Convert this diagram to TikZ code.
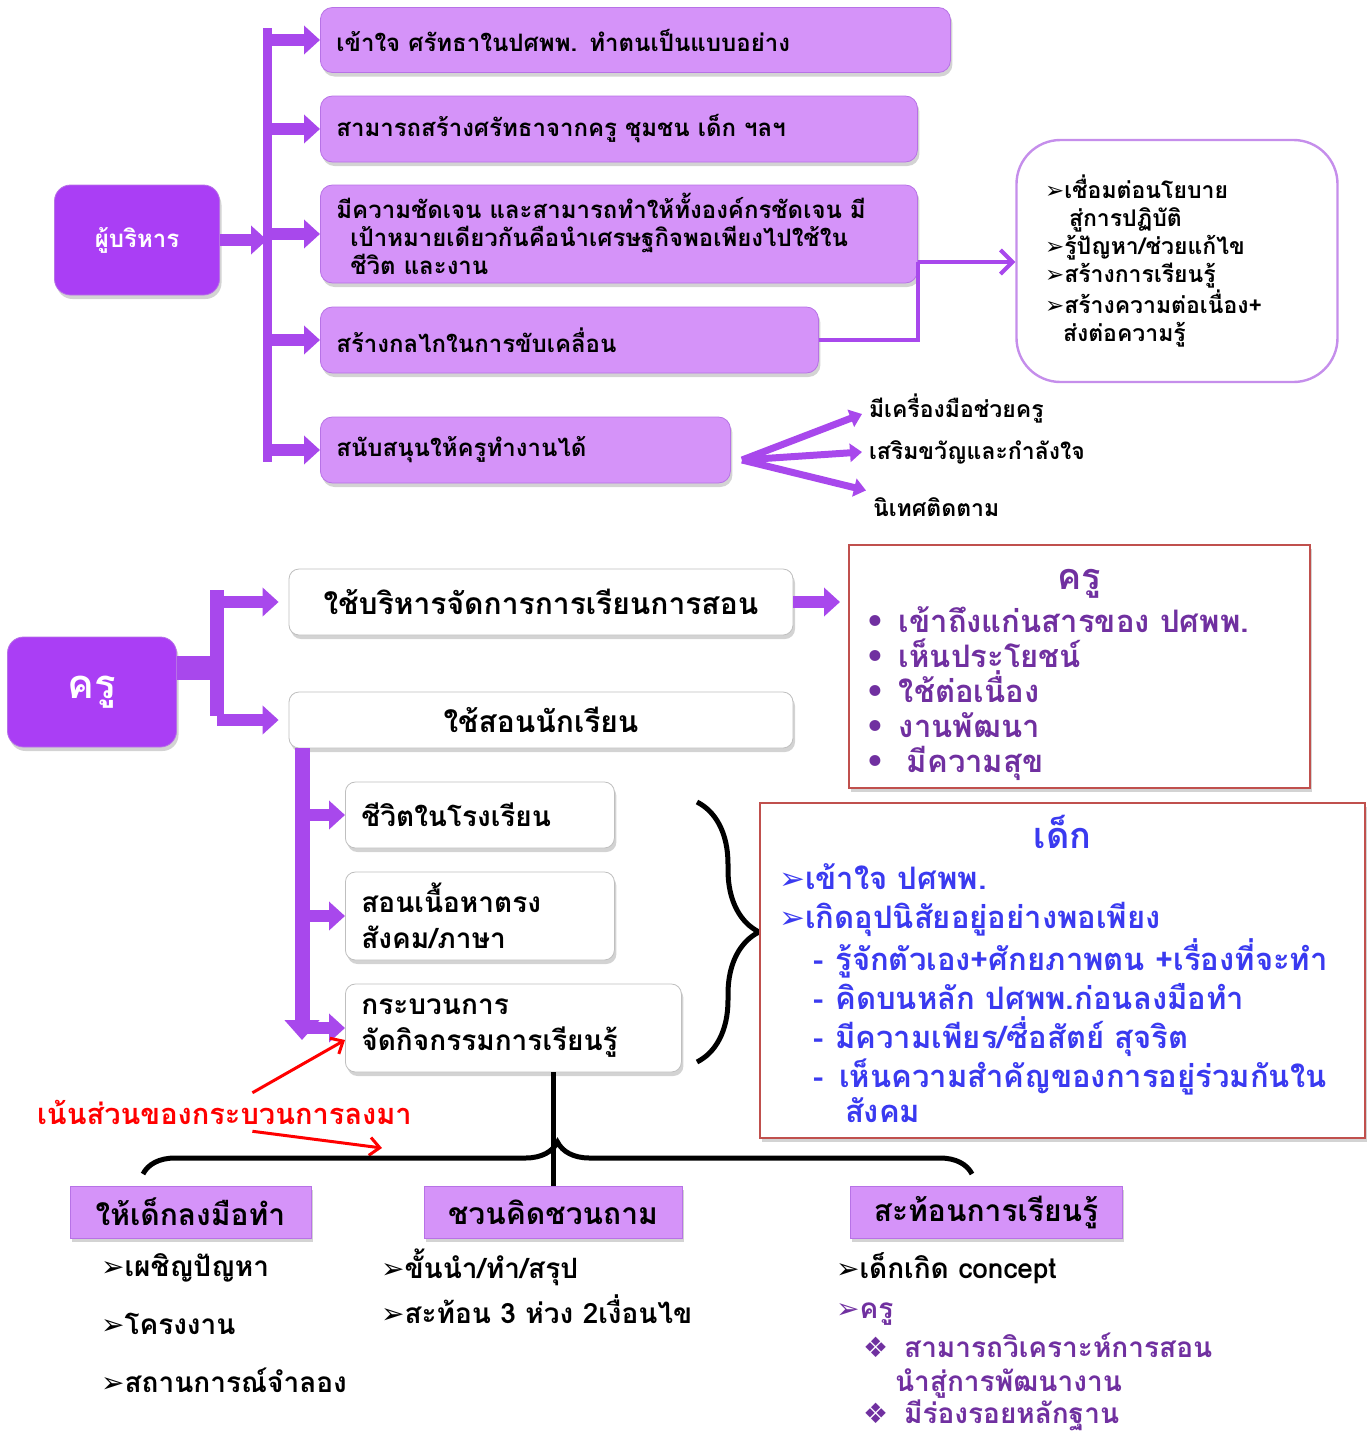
\documentclass[tikz,border=0pt]{standalone}
\usepackage{fontspec}
\setmainfont{Loma}[Script=Thai]
\newfontfamily\symf{DejaVu Sans}
\usetikzlibrary{positioning, arrows.meta, shadows, decorations.pathreplacing}

\definecolor{darkvio}{HTML}{AA3EF5}
\definecolor{lightvio}{HTML}{D593F9}
\definecolor{edgevio}{HTML}{B772E6}
\definecolor{arrowvio}{HTML}{A848EC}
\definecolor{txtvio}{HTML}{7030A0}
\definecolor{txtblue}{HTML}{3A3AF0}
\definecolor{boxred}{HTML}{C0504D}

\newcommand{\mk}{{\symf ➢}}
\newcommand{\dia}{{\symf ❖}}
\newcommand{\bul}{{\symf •}}

\tikzset{
  shade/.style={drop shadow={opacity=.35,shadow xshift=1pt,shadow yshift=-2pt}},
  head/.style={draw=edgevio, fill=darkvio, rounded corners=8pt, text=white, shade},
  topbox/.style={draw=edgevio, fill=lightvio, rounded corners=6pt, anchor=west,
    inner xsep=8pt, align=left, text width=#1, shade,
    font=\fontsize{12}{14}\selectfont\bfseries},
  whitebox/.style={draw=black!25, fill=white, rounded corners=5pt, shade,
    font=\fontsize{15}{18}\selectfont\bfseries},
  subbox/.style={whitebox, anchor=west, inner xsep=8pt, align=left, text width=#1,
    font=\fontsize{14}{18}\selectfont\bfseries},
  tab/.style={draw=edgevio, fill=lightvio, shade, font=\fontsize{15}{18}\selectfont\bfseries},
  redbox/.style={draw=boxred, line width=1pt, fill=white, shade},
  fat/.style={draw=arrowvio, line width=6pt, -{Triangle[width=14pt,length=8pt]}},
  bar/.style={draw=arrowvio, line width=4.5pt},
  thinfat/.style={draw=arrowvio, line width=3.5pt, -{Triangle[width=9pt,length=6pt]}},
  link/.style={draw=arrowvio, line width=2pt},
  item/.style={anchor=west, font=\fontsize{14}{17}\selectfont\bfseries},
  brace/.style={draw, line width=2.5pt, decorate, decoration={brace, amplitude=#1}}
}

\begin{document}
\begin{tikzpicture}[x=0.5pt, y=-0.5pt, font=\bfseries]
\useasboundingbox (0,0) rectangle (1367,1436);

% ---- ผู้บริหาร
\node[head, minimum width=82.5pt, minimum height=55pt,
  font=\fontsize{12}{14}\selectfont\bfseries] (admin) at (137,240) {ผู้บริหาร};
\coordinate (bartop) at (267,28);
\coordinate (barbot) at (267,462);

\node[topbox=299pt, minimum height=32.5pt] (a1) at (320,40) {เข้าใจ ศรัทธาในปศพพ. ทำตนเป็นแบบอย่าง};
\node[topbox=282.5pt, minimum height=33pt] (a2) at (320,129) {สามารถสร้างศรัทธาจากครู ชุมชน เด็ก ฯลฯ};
\node[topbox=282.5pt, minimum height=49pt] (a3) at (320,234)
  {มีความชัดเจน และสามารถทำให้ทั้งองค์กรชัดเจน มี\\
   \hspace*{7pt}เป้าหมายเดียวกันคือนำเศรษฐกิจพอเพียงไปใช้ใน\\
   \hspace*{7pt}ชีวิต และงาน};
\node[topbox=233pt, minimum height=33pt] (a4) at (320,340) {สร้างกลไกในการขับเคลื่อน};
\node[topbox=189pt, minimum height=33pt] (a5) at (320,450) {สนับสนุนให้ครูทำงานได้};

\draw[bar] (bartop) -- (barbot);
\draw[fat] (admin) -- (bartop |- admin);
\foreach \n in {a1,a2,a3,a4,a5}
  \draw[fat] (bartop |- \n) -- (\n);

\node[draw=edgevio!80, line width=1.2pt, fill=white, rounded corners=22pt,
  minimum width=160.5pt, minimum height=121pt, text width=132pt, align=left,
  font=\fontsize{11.5}{14}\selectfont\bfseries] (goal) at (1177,261)
  {\mk เชื่อมต่อนโยบาย\\
   \hspace*{12pt}สู่การปฏิบัติ\\
   \mk รู้ปัญหา/ช่วยแก้ไข\\
   \mk สร้างการเรียนรู้\\
   \mk สร้างความต่อเนื่อง+\\
   \hspace*{9pt}ส่งต่อความรู้};

\coordinate (join) at (a3.east |- 0,262);
\draw[link] (a4.east) -| (join);
\draw[link, -{Straight Barb[length=6pt,width=12pt]}] (join) -- (join -| goal.west);

% fan
\coordinate (fan) at (742,460);
\node[item, font=\fontsize{11.5}{13}\selectfont\bfseries] (t1) at (862,408) {มีเครื่องมือช่วยครู};
\node[item, font=\fontsize{11.5}{13}\selectfont\bfseries] (t2) at (862,452) {เสริมขวัญและกำลังใจ};
\node[item, font=\fontsize{11.5}{13}\selectfont\bfseries] (t3) at (866,507) {นิเทศติดตาม};
\draw[thinfat] (fan) -- ([yshift=-3pt]t1.west);
\draw[thinfat] (fan) -- (t2.west);
\draw[thinfat] (fan) -- (t3.north west);

% ---- ครู
\node[head, minimum width=84.5pt, minimum height=55pt,
  font=\fontsize{20}{22}\selectfont\bfseries] (kru) at (92,692) {ครู};
\node[whitebox, minimum width=252pt, minimum height=33pt] (use1) at (541,602) {ใช้บริหารจัดการการเรียนการสอน};
\node[whitebox, minimum width=252pt, minimum height=28pt] (use2) at (541,720) {ใช้สอนนักเรียน};

\coordinate (kbar) at (217,668);
\draw[draw=arrowvio, line width=12pt] (kru.east |- kbar) -- (kbar);
\draw[draw=arrowvio, line width=7pt] (217,590) -- (217,716);
\draw[fat] (kbar |- use1) -- ([xshift=-5pt]use1.west);
\draw[fat] (kbar |- use2) -- ([xshift=-5pt]use2.west);

\node[redbox, minimum width=230.5pt, minimum height=121.5pt] (kru2) at (1079.5,666.5) {};
\node[txtvio, below=9pt of kru2.north, font=\fontsize{18}{20}\selectfont\bfseries] (kru2t) {ครู};
\node[txtvio, anchor=north west, align=left, font=\fontsize{15.5}{17.5}\selectfont\bfseries]
  (kru2l) at (858,600)
  {\bul\hspace{7pt}เข้าถึงแก่นสารของ ปศพพ.\\
   \bul\hspace{7pt}เห็นประโยชน์\\
   \bul\hspace{7pt}ใช้ต่อเนื่อง\\
   \bul\hspace{7pt}งานพัฒนา\\
   \bul\hspace{11pt}มีความสุข};
\draw[fat] (use1) -- ([xshift=-4pt]kru2.west |- use1);

% ใช้สอนนักเรียน
\coordinate (vbar) at (302,748);
\node[subbox=118.5pt, minimum height=33pt] (s1) at (345,815) {ชีวิตในโรงเรียน};
\node[subbox=118.5pt, minimum height=44pt] (s2) at (345,916) {สอนเนื้อหาตรง\\สังคม/ภาษา};
\node[subbox=152pt, minimum height=44pt] (s3) at (345,1028) {กระบวนการ\\จัดกิจกรรมการเรียนรู้};
\draw[draw=arrowvio, line width=7.5pt, -{Triangle[width=17pt,length=10pt]}] (vbar) -- (302,1040);
\foreach \n in {s1,s2,s3}
  \draw[fat] (vbar |- \n) -- (\n);

\draw[brace=31pt] (697,802) -- (697,1062);

\node[redbox, minimum width=302.5pt, minimum height=167.5pt] (dek) at (1062.5,970.5) {};
\node[txtblue, below=3pt of dek.north, font=\fontsize{18}{20}\selectfont\bfseries] (dekt) {เด็ก};
\node[txtblue, anchor=north west, align=left, font=\fontsize{15.5}{19.5}\selectfont\bfseries]
  (dekl) at (772,857)
  {\mk เข้าใจ ปศพพ.\\
   \mk เกิดอุปนิสัยอยู่อย่างพอเพียง\\
   \hspace*{17pt}-\hspace{6pt}รู้จักตัวเอง+ศักยภาพตน +เรื่องที่จะทำ\\
   \hspace*{17pt}-\hspace{6pt}คิดบนหลัก ปศพพ.ก่อนลงมือทำ\\
   \hspace*{17pt}-\hspace{6pt}มีความเพียร/ซื่อสัตย์ สุจริต\\
   \hspace*{17pt}-\hspace{8pt}เห็นความสำคัญของการอยู่ร่วมกันใน\\[-2pt]
   \hspace*{33pt}สังคม};

% note
\node[item, red, font=\fontsize{14.5}{16}\selectfont\bfseries] (note) at (30,1112) {เน้นส่วนของกระบวนการลงมา};
\coordinate (noteend) at (382,1148);
\draw[red, line width=1.5pt, -{Straight Barb[length=5pt,width=9pt]}] ([xshift=14pt]note.north) -- ([yshift=-6pt]s3.west);
\draw[red, line width=1.5pt, -{Straight Barb[length=5pt,width=9pt]}] ([xshift=14pt]note.south) -- (noteend);

% ---- bottom
\node[tab, minimum width=120.5pt, minimum height=26pt] (b1) at (190.5,1212) {ให้เด็กลงมือทำ};
\node[tab, minimum width=129pt, minimum height=26pt] (b2) at (553,1212) {ชวนคิดชวนถาม};
\node[tab, minimum width=136pt, minimum height=26pt] (b3) at (986,1212) {สะท้อนการเรียนรู้};

\draw[line width=2.5pt] (b2.north |- s3.south) -- (b2.north);
\draw[brace=16pt] (143,1174) -- (972,1174);

\node[item] (l1) at (94,1268) {\mk เผชิญปัญหา};
\node[item] (l2) at (94,1324) {\mk โครงงาน};
\node[item] (l3) at (94,1380) {\mk สถานการณ์จำลอง};
\node[item] (m1) at (374,1267) {\mk ขั้นนำ/ทำ/สรุป};
\node[item] (m2) at (374,1309) {\mk สะท้อน 3 ห่วง 2เงื่อนไข};
\node[item] (r1) at (829,1268) {\mk เด็กเกิด concept};
\node[item, txtvio] (r2) at (829,1314) {\mk ครู};
\node[item, txtvio, align=left] (r3) at (856,1366)
  {\dia\hspace{8pt}สามารถวิเคราะห์การสอน\\
   \hspace*{16pt}นำสู่การพัฒนางาน};
\node[item, txtvio] (r4) at (856,1415) {\dia\hspace{8pt}มีร่องรอยหลักฐาน};
\end{tikzpicture}
\end{document}
